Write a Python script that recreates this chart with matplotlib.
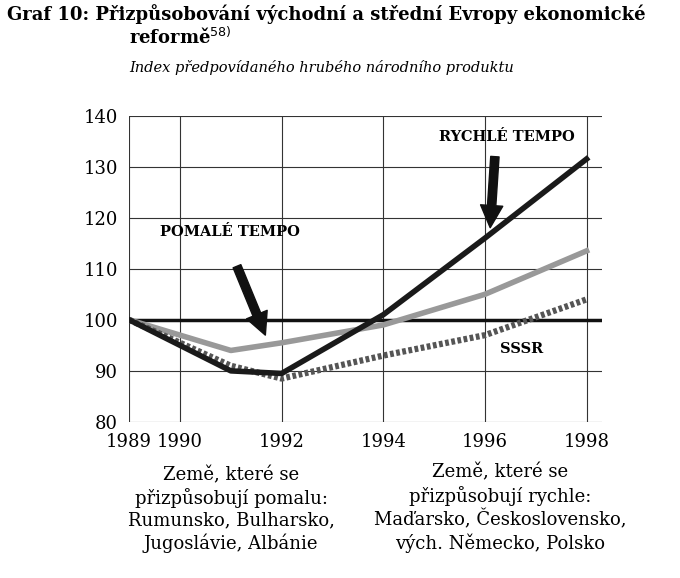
import matplotlib
matplotlib.use("Agg")
import matplotlib.pyplot as plt

years_fast = [1989, 1991, 1992, 1994, 1996, 1998]
fast = [100, 90, 89.5, 101, 116, 131.5]
years_slow = [1989, 1991, 1992, 1994, 1996, 1998]
slow = [100, 94, 95.5, 99, 105, 113.5]
years_sssr = [1989, 1991, 1992, 1994, 1996, 1998]
sssr = [100, 91, 88.5, 93, 97, 104]
xticks = [1989, 1990, 1992, 1994, 1996, 1998]
yticks = [80, 90, 100, 110, 120, 130, 140]

plt.rcParams["font.family"] = "DejaVu Serif"
fig = plt.figure(figsize=(6.8, 5.78), dpi=100)
ax = fig.add_axes([0.19, 0.27, 0.695, 0.53])
ax.set_xlim(1989, 1998.3)
ax.set_ylim(80, 140)
ax.set_xticks(xticks)
ax.set_yticks(yticks)
ax.tick_params(labelsize=13, length=0, pad=8)
for s in ax.spines.values():
    s.set_visible(False)
ax.grid(True, color="#333", lw=0.8)
ax.axhline(100, color="#111", lw=2.5)
ax.plot(years_slow, slow, color="#999", lw=4)
ax.plot(years_sssr, sssr, color="#555", lw=4.5, ls=(0, (0.6, 0.4)))
ax.plot(years_fast, fast, color="#1a1a1a", lw=4)

ax.annotate("", xy=(1996.1, 117.5), xytext=(1996.2, 132.5),
            arrowprops=dict(arrowstyle="simple,head_width=1.6,head_length=1.6,tail_width=0.6", color="#111"))
ax.annotate("", xy=(1991.7, 96.5), xytext=(1991.1, 111),
            arrowprops=dict(arrowstyle="simple,head_width=1.6,head_length=1.6,tail_width=0.6", color="#111"))
ax.text(1995.1, 135, "RYCHLÉ TEMPO", fontsize=10.5, fontweight="bold")
ax.text(1989.6, 116.5, "POMALÉ TEMPO", fontsize=10.5, fontweight="bold")
ax.text(1996.3, 93.5, "SSSR", fontsize=10.5, fontweight="bold")

fig.text(0.01, 0.965, "Graf 10: Přizpůsobování východní a střední Evropy ekonomické",
         fontsize=13, fontweight="bold")
fig.text(0.19, 0.925, "reformě$^{58)}$", fontsize=13, fontweight="bold")
fig.text(0.19, 0.875, "Index předpovídaného hrubého národního produktu",
         fontsize=10.5, fontstyle="italic")
fig.text(0.34, 0.05, "Země, které se\npřizpůsobují pomalu:\nRumunsko, Bulharsko,\nJugoslávie, Albánie",
         fontsize=13, ha="center", linespacing=1.25)
fig.text(0.735, 0.05, "Země, které se\npřizpůsobují rychle:\nMaďarsko, Československo,\nvých. Německo, Polsko",
         fontsize=13, ha="center", linespacing=1.25)
fig.savefig("out.png")
